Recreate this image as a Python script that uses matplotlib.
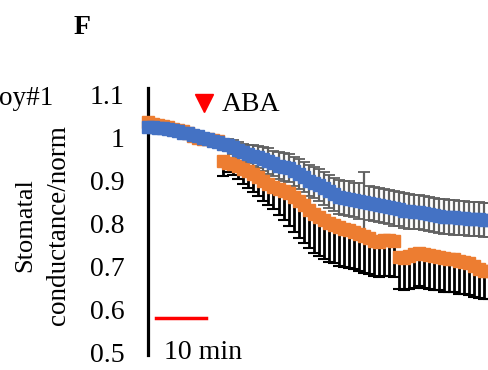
import matplotlib.pyplot as plt
import numpy as np

# time in minutes, one reading per minute
minutes = np.arange(69)

orange = [1.036, 1.033, 1.030, 1.027, 1.024, 1.021, 1.018, 1.015, 1.010, 1.005,
          1.000, 0.998, 0.996, 0.994, 0.993, 0.945, 0.942, 0.938, 0.933, 0.928,
          0.922, 0.915, 0.908, 0.900, 0.892, 0.885, 0.880, 0.875, 0.870, 0.862,
          0.852, 0.842, 0.832, 0.822, 0.815, 0.808, 0.802, 0.797, 0.792, 0.788,
          0.785, 0.780, 0.775, 0.770, 0.765, 0.760, 0.757, 0.762, 0.762, 0.758,
          0.722, 0.720, 0.725, 0.728, 0.730, 0.728, 0.726, 0.724, 0.722, 0.720,
          0.718, 0.716, 0.713, 0.710, 0.707, 0.700, 0.693, 0.690, 0.690]
orange_err = [0.005, 0.005, 0.005, 0.005, 0.005, 0.006, 0.006, 0.006, 0.007, 0.008,
              0.008, 0.010, 0.010, 0.010, 0.012, 0.035, 0.022, 0.026, 0.030, 0.035,
              0.040, 0.042, 0.045, 0.048, 0.050, 0.052, 0.060, 0.068, 0.075, 0.082,
              0.085, 0.088, 0.090, 0.090, 0.092, 0.092, 0.092, 0.090, 0.092, 0.090,
              0.088, 0.086, 0.085, 0.085, 0.083, 0.083, 0.082, 0.085, 0.084, 0.082,
              0.076, 0.076, 0.078, 0.078, 0.077, 0.078, 0.080, 0.079, 0.078, 0.080,
              0.078, 0.076, 0.077, 0.075, 0.073, 0.071, 0.068, 0.066, 0.066]

blue = [1.025, 1.024, 1.023, 1.022, 1.020, 1.018, 1.015, 1.012, 1.010, 1.006,
        1.003, 1.000, 0.997, 0.993, 0.990, 0.986, 0.982, 0.978, 0.972, 0.966,
        0.962, 0.958, 0.955, 0.950, 0.945, 0.940, 0.935, 0.932, 0.930, 0.922,
        0.915, 0.908, 0.900, 0.895, 0.890, 0.882, 0.875, 0.868, 0.862, 0.860,
        0.858, 0.855, 0.852, 0.850, 0.847, 0.845, 0.843, 0.840, 0.838, 0.835,
        0.833, 0.830, 0.828, 0.826, 0.826, 0.825, 0.822, 0.820, 0.818, 0.816,
        0.815, 0.814, 0.813, 0.812, 0.811, 0.810, 0.810, 0.808, 0.808]
blue_err = [0.004, 0.004, 0.004, 0.005, 0.005, 0.005, 0.006, 0.006, 0.006, 0.007,
            0.007, 0.008, 0.008, 0.009, 0.010, 0.012, 0.014, 0.016, 0.018, 0.020,
            0.022, 0.024, 0.026, 0.028, 0.030, 0.030, 0.032, 0.032, 0.033, 0.034,
            0.035, 0.035, 0.036, 0.036, 0.037, 0.038, 0.038, 0.038, 0.040, 0.040,
            0.040, 0.040, 0.042, 0.070, 0.040, 0.040, 0.040, 0.040, 0.040, 0.040,
            0.040, 0.040, 0.040, 0.040, 0.040, 0.040, 0.040, 0.040, 0.040, 0.040,
            0.040, 0.040, 0.040, 0.040, 0.040, 0.040, 0.040, 0.040, 0.040]

yticks = [0.5, 0.6, 0.7, 0.8, 0.9, 1.0, 1.1]
ytick_labels = ["0.5", "0.6", "0.7", "0.8", "0.9", "1", "1.1"]
aba_time = 11.2
scale_start, scale_len = 1.6, 10

plt.rcParams['font.family'] = ['Liberation Serif', 'DejaVu Serif']

fig = plt.figure(figsize=(4.89, 3.70), dpi=100)
ax = fig.add_axes([0.3027, 0.0405, 0.7, 0.7215])

# error bars: orange downward in black, blue both ways in grey
ax.errorbar(minutes, orange, yerr=[orange_err, np.zeros(len(orange))], fmt='none',
            ecolor='black', elinewidth=2.0, capsize=4, capthick=1.5, zorder=1)
ax.errorbar(minutes, blue, yerr=blue_err, fmt='none',
            ecolor='#606060', elinewidth=1.6, capsize=4, capthick=1.3, zorder=2)
ax.plot(minutes, orange, 's', color='#ED7D31', markersize=8.5, zorder=3, clip_on=False)
ax.plot(minutes, blue, 's', color='#4472C4', markersize=8.5, zorder=4, clip_on=False)

# ABA marker and scale bar
ax.plot([aba_time], [1.08], 'v', color='#FF0000', markersize=13, clip_on=False)
ax.text(aba_time + 3.4, 1.077, "ABA", fontsize=20, va='center', ha='left')
ax.plot([scale_start, scale_start + scale_len], [0.579, 0.579], color='#FF0000', lw=2.5)
ax.text(scale_start + 1.6, 0.50, "10 min", fontsize=20, va='center', ha='left')

ax.set_xlim(0, 68.2)
ax.set_ylim(0.493, 1.116)
ax.set_yticks(yticks)
ax.set_yticklabels(ytick_labels)
ax.tick_params(axis='y', length=0, pad=17, labelsize=20)
ax.xaxis.set_visible(False)
for s in ["top", "right", "bottom"]:
    ax.spines[s].set_visible(False)
ax.spines["left"].set_linewidth(2.3)

fig.text(0.051, 0.392, "Stomatal", rotation=90, fontsize=19, ha='center', va='center')
fig.text(0.119, 0.392, "conductance/norm", rotation=90, fontsize=19.5, ha='center', va='center')
fig.text(0.108, 0.735, "oy#1", fontsize=19.5, ha='right', va='center')
fig.text(0.168, 0.925, "F", family=['Liberation Serif'], fontsize=20, fontweight='bold',
         ha='center', va='center')

fig.savefig("out.png", dpi=100)
